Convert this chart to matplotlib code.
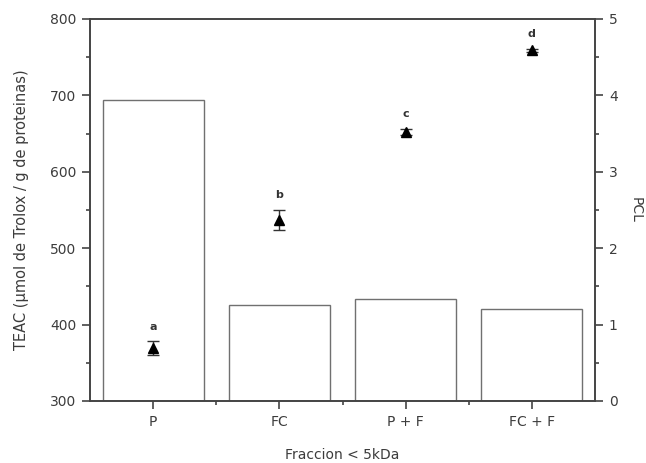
import matplotlib
matplotlib.use("Agg")
import matplotlib.pyplot as plt
from matplotlib.ticker import MultipleLocator

categories = ["P", "FC", "P + F", "FC + F"]
teac = [694, 426, 434, 420]            # bars, left axis
pcl = [0.69, 2.37, 3.52, 4.59]         # triangles, right axis
pcl_err = [0.09, 0.13, 0.04, 0.02]
letters = ["a", "b", "c", "d"]

plt.rcParams["font.family"] = ["DejaVu Sans"]
axis_col = "#444444"
text_col = "#3c3c3c"

fig = plt.figure(figsize=(6.46, 4.63), dpi=100)
ax = fig.add_axes([90 / 646, 1 - 401 / 463, 505 / 646, 382 / 463])
x = list(range(len(categories)))

ax.bar(x, [v - 300 for v in teac], bottom=300, width=0.8,
       facecolor="white", edgecolor="#707070", linewidth=1.0, zorder=2)
ax.set_xlim(-0.5, 3.5)
ax.set_ylim(300, 800)
ax.yaxis.set_major_locator(MultipleLocator(100))
ax.yaxis.set_minor_locator(MultipleLocator(50))
ax.set_xticks(x)
ax.set_xticklabels(categories)
ax.set_xticks([0.5, 1.5, 2.5], minor=True)
ax.set_ylabel("TEAC (µmol de Trolox / g de proteinas)", fontsize=10.5,
              color=text_col, labelpad=15)
ax.set_xlabel("Fraccion < 5kDa", fontsize=10, color=text_col, labelpad=14)

ax2 = ax.twinx()
ax2.set_ylim(0, 5)
ax2.yaxis.set_major_locator(MultipleLocator(1))
ax2.yaxis.set_minor_locator(MultipleLocator(0.5))
ax2.errorbar(x, pcl, yerr=pcl_err, fmt="^", color="black", markersize=6.5,
             ecolor="#333333", elinewidth=1, capsize=4, capthick=1, zorder=3)
for xi, yi, ei, lab in zip(x, pcl, pcl_err, letters):
    ax2.annotate(lab, (xi, yi + ei), xytext=(0, 7), textcoords="offset points",
                 ha="center", va="bottom", fontsize=8, fontweight="bold",
                 color="#333333")
ax2.set_ylabel("PCL", fontsize=10, color=text_col, rotation=270, labelpad=18)

for a in (ax, ax2):
    for s in a.spines.values():
        s.set_color(axis_col)
        s.set_linewidth(1.2)
    a.tick_params(which="major", direction="out", length=6, width=1.2,
                  color=axis_col, labelcolor=text_col, labelsize=10, pad=4)
    a.tick_params(which="minor", direction="out", length=3, width=1.2,
                  color=axis_col)

fig.savefig("out.png", dpi=100)
